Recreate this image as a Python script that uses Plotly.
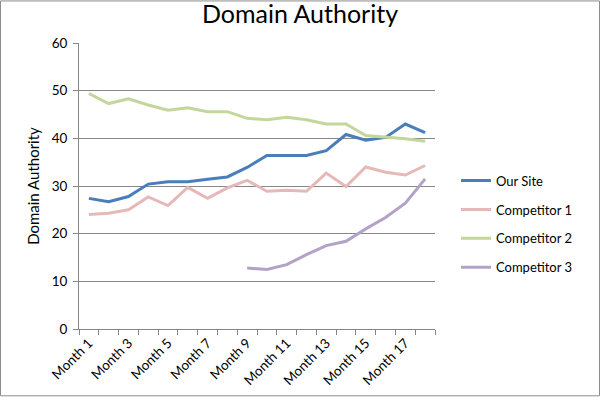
import plotly.graph_objects as go

months = [f"Month {i}" for i in range(1, 19)]
our_site = [27.4, 26.7, 27.8, 30.4, 30.9, 30.9, 31.4, 31.9, 33.9, 36.4, 36.4, 36.4, 37.4, 40.8, 39.6, 40.2, 43.0, 41.2]
competitor_1 = [24.0, 24.3, 25.0, 27.7, 25.9, 29.7, 27.4, 29.6, 31.2, 28.9, 29.1, 28.9, 32.7, 29.9, 34.0, 32.9, 32.3, 34.3]
competitor_2 = [49.4, 47.3, 48.3, 47.0, 45.9, 46.4, 45.6, 45.6, 44.2, 43.9, 44.4, 43.9, 43.0, 43.0, 40.6, 40.3, 39.9, 39.4]
competitor_3 = [None, None, None, None, None, None, None, None, 12.8, 12.5, 13.5, 15.6, 17.5, 18.4, 21.0, 23.4, 26.4, 31.5]

series_names = ["Our Site", "Competitor 1", "Competitor 2", "Competitor 3"]
series_values = [our_site, competitor_1, competitor_2, competitor_3]
colors = ["#4A7EBB", "#E6B9B8", "#C3D69B", "#B3A2C7"]

x_pos = list(range(1, len(months) + 1))

fig = go.Figure()
for name, vals, col in zip(series_names, series_values, colors):
    fig.add_trace(go.Scatter(
        x=x_pos, y=vals, name=name, mode="lines",
        line=dict(color=col, width=3),
        legendgroup=name,
    ))

W, H = 600, 400
ml, mr, mt, mb = 79, 165, 43, 68
pw, ph = W - ml - mr, H - mt - mb

fig.update_layout(
    width=W, height=H,
    margin=dict(l=ml, r=mr, t=mt, b=mb),
    paper_bgcolor="white", plot_bgcolor="white",
    font=dict(family="Lato, 'Open Sans', sans-serif", color="#000000", size=13),
    title=dict(text="Domain Authority", x=0.5, xref="container", y=1 - 14 / H,
               yref="container", yanchor="middle", xanchor="center",
               font=dict(size=25, color="#000000")),
    showlegend=True,
    legend=dict(x=(456 - ml) / pw, xanchor="left", y=(H - 177 - mb) / ph + 0.035,
                yanchor="top", font=dict(size=13), tracegroupgap=9,
                itemwidth=30, bgcolor="rgba(0,0,0,0)"),
    xaxis=dict(
        range=[0.5, len(months) + 0.5],
        tickmode="array", tickvals=x_pos[::2], ticktext=months[::2],
        tickangle=-45, ticks="", showgrid=False,
        showline=True, linecolor="#868686", linewidth=1,
        tickfont=dict(size=13.5),
        minor=dict(tick0=0.5, dtick=1, ticks="outside", ticklen=5,
                   tickcolor="#868686", showgrid=False),
        zeroline=False,
    ),
    yaxis=dict(
        range=[0, 60], dtick=10, tick0=0,
        showgrid=True, gridcolor="#878787", gridwidth=1,
        showline=True, linecolor="#868686", linewidth=1,
        ticks="outside", ticklen=5, tickcolor="#868686",
        ticklabelstandoff=3,
        tickfont=dict(size=13.5),
        title=dict(text="Domain Authority", font=dict(size=15), standoff=8),
        zeroline=False,
    ),
    shapes=[dict(type="rect", xref="paper", yref="paper",
                 x0=(-ml + 0.5) / pw, x1=(W - ml - 0.5) / pw,
                 y0=(-mb + 0.5) / ph, y1=(H - mb - 0.5) / ph,
                 line=dict(color="#8c8c8c", width=1), layer="below")],
)

fig.write_html("out.html",
               config={"displayModeBar": False},
               post_script="document.body.style.margin='0';document.body.style.overflow='hidden';")
